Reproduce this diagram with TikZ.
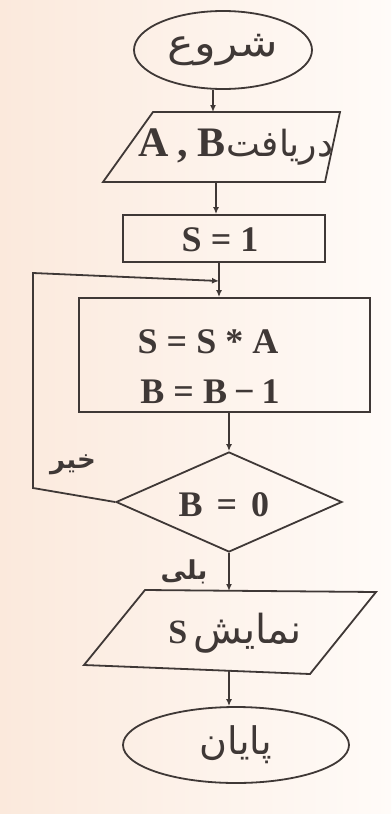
\documentclass[tikz,border=0pt]{standalone}
\usepackage{fontspec}
\usepackage{graphicx}
\setmainfont{Liberation Serif}
\newfontfamily\arabicfont[Script=Arabic]{DejaVu Sans}
\TeXXeTstate=1
\usetikzlibrary{shapes.geometric,arrows.meta}
\definecolor{ink}{HTML}{3F3836}
\definecolor{paperL}{HTML}{FBE9DC}
\definecolor{paperR}{HTML}{FFFBF8}
\newcommand{\eqs}{\hspace{9pt}=\hspace{9pt}}
\tikzset{
  line/.style={draw=ink,line width=1.8pt},
  flow/.style={line,-{Latex[length=7pt,width=6pt]}},
  lat/.style={font=\fontsize{36}{40}\selectfont\bfseries,text=ink,inner sep=0pt},
  fa/.style={font=\fontsize{38}{42}\selectfont\arabicfont,text=ink},
  lab/.style={font=\fontsize{26}{30}\selectfont\arabicfont\bfseries,text=ink,inner sep=0pt},
}
\begin{document}
\begin{tikzpicture}[x=1pt,y=-1pt]
\useasboundingbox (0,0) rectangle (391,814);
\shade[left color=paperL,right color=paperR] (0,0) rectangle (391,814);

% start
\node[line,ellipse,minimum width=178pt,minimum height=78pt,inner sep=0pt,fa] (start) at (223,50) {\scalebox{1.18}[1]{\beginR شروع\endR}};
% input
\coordinate (in1) at (153,112);
\coordinate (in2) at (340,112);
\coordinate (in3) at (325,182);
\coordinate (in4) at (103,182);
\draw[line] (in1) -- (in2) -- (in3) -- (in4) -- cycle;
\node[inner sep=0pt] (input) at (236,147) {\fontsize{42}{46}\selectfont\bfseries\color{ink}A\hspace{9pt},\hspace{9pt}B\hspace{1pt}{\fontsize{36}{40}\selectfont\mdseries\arabicfont\beginR دریافت\endR}};
\coordinate (intop) at (213,112);
\coordinate (inbot) at (216,182);
% S=1
\node[line,rectangle,minimum width=202pt,minimum height=47pt,inner sep=0pt] (s1) at (224,238.5) {};
\node[lat] (s1t) at (220,240) {S\eqs 1};
% junction
\coordinate (junc) at (219,281);
\coordinate (loopL) at (33,273);
\coordinate (loopB) at (33,488);
% big box
\node[line,rectangle,minimum width=291pt,minimum height=114pt,inner sep=0pt] (calc) at (224.5,355) {};
\node[lat] (calc1) at (208,342) {S\eqs S\hspace{9pt}*\hspace{9pt}A};
\node[lat] (calc2) at (210,392) {B\eqs B\hspace{7pt}\char"2212\hspace{7pt}1};
% decision
\node[line,diamond,minimum width=226pt,minimum height=100pt,aspect=2.26,inner sep=0pt] (dec) at (229,502) {};
\node[lat] (dect) at (224,505) {B\hspace{14pt}=\hspace{14pt}0};
% output
\coordinate (o1) at (145,590);
\coordinate (o2) at (376,592);
\coordinate (o3) at (310,674);
\coordinate (o4) at (84,665);
\draw[line] (o1) -- (o2) -- (o3) -- (o4) -- cycle;
\node[inner sep=0pt] (output) at (235,633) {\fontsize{34}{38}\selectfont\bfseries\color{ink}S\hspace{6pt}{\fontsize{40}{44}\selectfont\mdseries\arabicfont\beginR نمایش\endR}};
\coordinate (outtop) at (229,591);
\coordinate (outbot) at (229,670);
% end
\node[line,ellipse,minimum width=226pt,minimum height=76pt,inner sep=0pt,fa] (stop) at (236,745) {\beginR پایان\endR};

% connectors
\draw[flow] (start.south -| intop) -- (intop);
\draw[flow] (inbot) -- (s1.north -| inbot);
\draw[line] (s1.south -| junc) -- (junc);
\draw[flow] (junc) -- (calc.north -| junc);
\draw[flow] (calc.south -| dec.north) -- (dec.north);
\draw[flow] (dec.west) -- (loopB) -- (loopL) -- (junc);
\draw[flow] (dec.south) -- (outtop);
\draw[flow] (outbot) -- (stop.north -| outbot);

% labels
\node[lab] (no) at (73,465) {\beginR خیر\endR};
\node[lab] (yes) at (184,572) {\beginR بلی\endR};
\end{tikzpicture}
\end{document}
